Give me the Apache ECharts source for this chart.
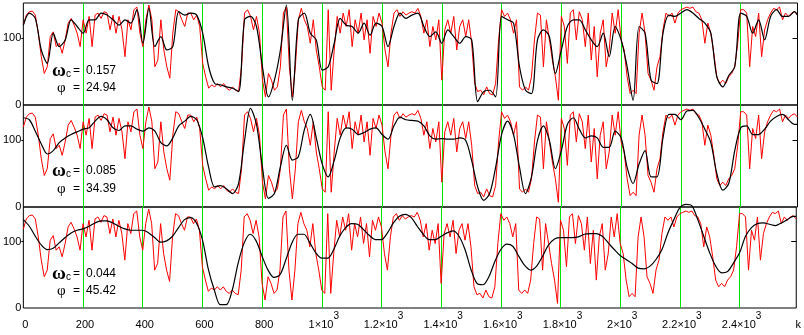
<!DOCTYPE html>
<html><head><meta charset="utf-8">
<script src="https://cdn.jsdelivr.net/npm/echarts@6/dist/echarts.min.js"></script>
<style>html,body{margin:0;padding:0;background:#fff}#c{width:804px;height:335px}</style>
</head><body><div id="c"></div>
<script>
// ---- data ----
const X_MAX = 2590;
const RED_STEP = 10;   // k spacing of the red signal samples
const BLACK_STEP = 20; // k spacing of the smoothed curves (last sample at k=2590)
const xTicks = [0,200,400,600,800,1000,1200,1400,1600,1800,2000,2200,2400];
const yTicks = [0,100];
const omegaC = ['0.157','0.085','0.044'];
const phiVals = ['24.94','34.39','45.42'];

const redSignal = [
119,134,139,140,134,107,72,47,57,102,
109,87,92,77,97,122,129,119,107,87,
127,107,132,87,134,137,129,139,137,112,
134,107,132,112,72,127,112,142,146,107,
87,127,149,127,57,67,127,82,57,40,
107,142,139,127,117,137,137,127,134,117,
62,42,25,30,27,32,27,32,25,22,
27,22,20,57,137,142,132,112,132,107,
37,12,47,37,22,27,57,137,146,57,
12,57,127,144,127,117,92,127,82,57,
27,22,142,22,82,132,107,137,117,142,
87,127,107,137,97,127,77,132,117,137,
122,82,57,107,137,142,132,139,134,137,
139,137,144,132,107,127,87,117,97,127,
37,112,127,107,132,82,117,127,102,127,
92,32,20,22,15,27,17,15,32,97,
142,132,137,127,107,127,27,22,27,22,
42,97,137,134,57,127,97,67,42,7,
132,117,62,137,142,97,139,127,87,137,
67,117,42,107,127,57,82,137,107,142,
97,82,42,17,22,17,107,137,107,47,
37,22,57,72,112,137,132,137,122,137,
142,144,146,144,146,139,137,127,92,122,
107,77,42,32,37,32,42,47,57,92,
142,142,137,57,117,102,137,72,112,127,
137,144,142,146,127,137,132,137,139,134
];

const smooth157 = [
119,137,129,82,62,107,87,97,127,117,
107,127,127,137,134,127,119,127,122,142,
92,144,87,102,82,87,139,134,137,134,
107,57,32,30,27,25,20,127,132,117,
57,12,37,82,149,7,127,137,107,97,
52,57,92,129,119,117,107,122,104,122,
117,87,117,137,129,134,137,117,102,109,
92,112,102,92,102,97,5,20,22,12,
132,127,122,57,22,17,97,112,102,47,
82,117,127,127,112,97,87,107,72,117,
97,57,7,117,107,37,32,107,134,132,
137,142,137,129,122,107,42,27,44,57,
137,132,107,127,97,132,142,132,132,139,134
];

const smooth085 = [
133,130,113,94,79,84,96,103,108,112,
116,118,128,135,130,118,114,121,121,116,
113,118,113,96,91,103,121,128,135,130,
103,59,30,32,27,20,35,99,147,123,
59,13,20,60,92,70,75,115,138,103,
64,45,69,103,118,116,108,111,116,118,
108,101,121,134,130,129,128,121,106,101,
102,101,101,103,99,69,30,10,20,59,
108,128,108,59,20,45,99,121,99,57,
84,123,133,116,103,106,103,89,89,113,
103,59,35,64,84,45,45,103,138,138,
130,143,144,133,116,96,50,25,35,84,
118,121,108,108,116,128,135,138,130,123,123
];

const smooth044 = [
133,123,108,95,88,90,98,106,113,117,
119,123,128,131,131,128,123,119,117,117,
117,113,106,99,101,108,121,133,136,128,
103,58,27,5,5,27,68,98,111,101,
78,57,46,50,73,98,111,111,98,83,
75,75,88,108,121,127,126,118,109,103,
103,113,128,138,141,136,123,111,103,103,
108,113,116,108,88,58,37,35,47,70,
88,96,93,78,64,57,63,78,95,104,
106,106,106,107,111,112,112,108,98,88,
79,73,67,60,59,63,73,88,113,133,
151,156,154,133,108,83,63,53,55,68,
83,108,121,127,128,126,124,128,133,138,138
];

// ---- build ----
const redData = redSignal.map((v, i) => [i * RED_STEP, v]);
function blackData(arr) {
  return arr.map((v, i) => [i < arr.length - 1 ? i * BLACK_STEP : 2590, v]);
}
const smoothSets = [smooth157, smooth085, smooth044];

const FONT = '"Liberation Sans", Arial, sans-serif';
const gridTops = [3, 105, 207];
const gridHeights = [102, 102, 101];
const Y_MAX = 152;

const grids = [], xAxes = [], yAxes = [], series = [];
for (let i = 0; i < 3; i++) {
  grids.push({ left: 20.5, right: 6.5, top: gridTops[i], height: gridHeights[i],
    show: true, borderColor: '#000', borderWidth: 1, backgroundColor: 'transparent' });
  const bottom = i === 2;
  xAxes.push({
    type: 'value', gridIndex: i, min: 0, max: X_MAX, interval: 200,
    axisLine: { show: false }, axisTick: { show: false },
    splitLine: { show: true, showMinLine: false, showMaxLine: false,
      lineStyle: { color: '#00e600', width: 1 } },
    axisLabel: bottom ? {
      show: true, margin: 3, showMaxLabel: true, showMinLabel: true,
      customValues: xTicks.concat([X_MAX]),
      padding: [0, 0, 0, 4],
      formatter: function (v) {
        if (v === X_MAX) return '{b|k}';
        if (v < 1000) return '{b|' + v + '}';
        return '{b|' + (v / 1000) + '×10}{s|3}';
      },
      rich: {
        b: { fontSize: 11, fontFamily: FONT, color: '#000', lineHeight: 28 },
        s: { fontSize: 10, fontFamily: FONT, color: '#000', verticalAlign: 'top' }
      }
    } : { show: false }
  });
  yAxes.push({
    type: 'value', gridIndex: i, min: 0, max: Y_MAX, interval: 100,
    axisLine: { show: false },
    axisTick: { show: true, length: 2, customValues: [100], lineStyle: { color: '#000' } },
    splitLine: { show: false },
    axisLabel: { show: true, margin: 2, customValues: yTicks, fontSize: 11,
      fontFamily: FONT, color: '#000' }
  });
  yAxes.push({
    type: 'value', gridIndex: i, min: 0, max: Y_MAX, interval: 100, position: 'right',
    axisLine: { show: false },
    axisTick: { show: true, inside: true, length: 5, customValues: [100], lineStyle: { color: '#000' } },
    splitLine: { show: false }, axisLabel: { show: false }
  });
  series.push({
    type: 'line', xAxisIndex: i, yAxisIndex: i * 2, data: redData,
    showSymbol: false, clip: false, silent: true,
    lineStyle: { color: '#ff0000', width: 1 }, z: 3
  });
  series.push({
    type: 'line', xAxisIndex: i, yAxisIndex: i * 2, data: blackData(smoothSets[i]),
    showSymbol: false, clip: false, silent: true, smooth: 0.3,
    lineStyle: { color: '#000', width: 1.2 }, z: 4
  });
}

const omegaY = [71, 171, 274];
const phiY = [88, 189, 291];
const graphic = [];
for (let i = 0; i < 3; i++) {
  graphic.push({ type: 'text', x: 52, y: omegaY[i], z: 10,
    style: { text: 'ω', font: 'bold 19px "Liberation Serif", serif', fill: '#000', verticalAlign: 'middle' } });
  graphic.push({ type: 'text', x: 66, y: omegaY[i] + 3, z: 10,
    style: { text: 'c', font: '10px ' + FONT, fill: '#000', verticalAlign: 'middle' } });
  graphic.push({ type: 'text', x: 73, y: omegaY[i], z: 10,
    style: { text: '=', font: '12px ' + FONT, fill: '#000', verticalAlign: 'middle' } });
  graphic.push({ type: 'text', x: 86, y: omegaY[i], z: 10,
    style: { text: omegaC[i], font: '12px ' + FONT, fill: '#000', verticalAlign: 'middle' } });
  graphic.push({ type: 'text', x: 57, y: phiY[i], z: 10,
    style: { text: 'φ', font: '15px "Liberation Serif", serif', fill: '#000', verticalAlign: 'middle' } });
  graphic.push({ type: 'text', x: 73, y: phiY[i], z: 10,
    style: { text: '=', font: '12px ' + FONT, fill: '#000', verticalAlign: 'middle' } });
  graphic.push({ type: 'text', x: 86, y: phiY[i], z: 10,
    style: { text: phiVals[i], font: '12px ' + FONT, fill: '#000', verticalAlign: 'middle' } });
}

const chart = echarts.init(document.getElementById('c'), null, { renderer: 'canvas' });
chart.setOption({
  animation: false,
  backgroundColor: '#fff',
  grid: grids, xAxis: xAxes, yAxis: yAxes, series: series, graphic: graphic
});
</script>
</body></html>
